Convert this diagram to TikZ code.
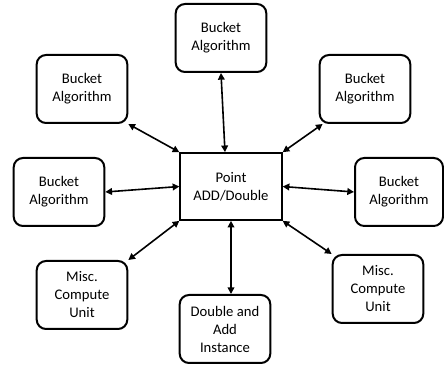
\documentclass[tikz,border=0pt]{standalone}
\usepackage{fontspec}
\setsansfont{Carlito}
\usetikzlibrary{positioning,arrows.meta,calc}

\begin{document}
\begin{tikzpicture}[
  x=0.75pt, y=-0.75pt,
  font=\fontsize{11}{13.5}\selectfont\sffamily,
  unit/.style={draw, line width=1.5pt, rounded corners=7pt, minimum width=68pt, minimum height=51pt, align=center, inner sep=1pt},
  core/.style={draw, line width=1.5pt, minimum width=76pt, minimum height=50pt, align=center},
  link/.style={{Triangle[length=5pt,width=5pt]}-{Triangle[length=5pt,width=5pt]}, line width=1.2pt}
]
\useasboundingbox (0,0) rectangle (444,366);

% ============================================================
% CENTRAL POINT ADD / DOUBLE UNIT
% ============================================================
\node[core] (pad) at (231,186.5) {Point\\ADD/Double};

% ============================================================
% SURROUNDING UNITS
% ============================================================
\node[unit] (bktT)  at (221,38)  {Bucket\\Algorithm};
\node[unit] (bktUL) at (82,89)   {Bucket\\Algorithm};
\node[unit] (bktUR) at (365,89)  {Bucket\\Algorithm};
\node[unit] (bktL)  at (59,192)  {Bucket\\Algorithm};
\node[unit, minimum width=66pt] (bktR) at (399,192) {Bucket\\Algorithm};
\node[unit] (miscL) at (82,295)  {Misc.\\Compute\\Unit};
\node[unit] (miscR) at (378,289) {Misc.\\Compute\\Unit};
\node[unit] (dadd)  at (225,329) {Double and\\Add\\Instance};

% ============================================================
% BIDIRECTIONAL LINKS
% ============================================================
\draw[link] (bktT.south) -- ([xshift=-4.5pt]pad.north);
\draw[link] (bktUL.south east) -- (pad.north west);
\draw[link] ([xshift=3pt]bktUR.south west) -- (pad.north east);
\draw[link] (bktL.east) -- (pad.west);
\draw[link] (pad.east) -- (bktR.west);
\draw[link] (pad.south west) -- (miscL.north east);
\draw[link] (pad.south) -- (pad.south |- dadd.north);
\draw[link] (pad.south east) -- (miscR.north west);

\end{tikzpicture}
\end{document}
